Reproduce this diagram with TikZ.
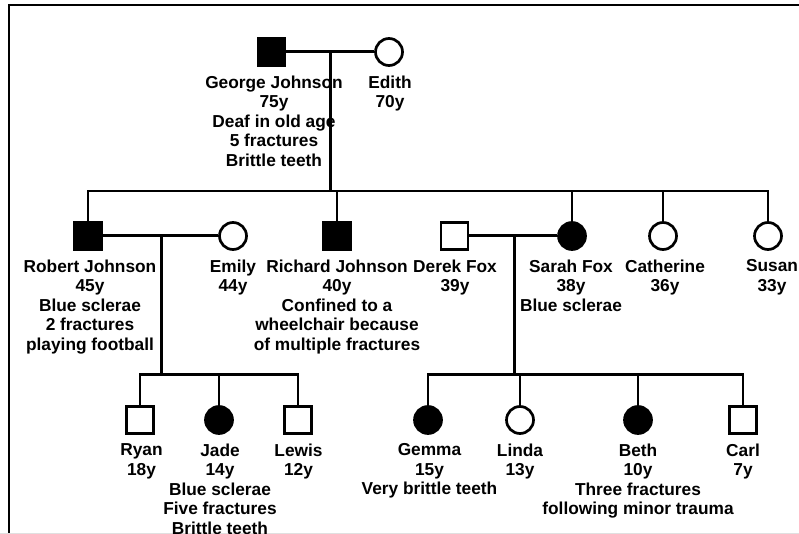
\documentclass[tikz,border=0pt]{standalone}
\usepackage{fontspec}
\setmainfont{Liberation Sans}
\begin{document}
\begin{tikzpicture}[x=1pt,y=-1pt,
  male/.style={draw=black,line width=2.7pt,rectangle,minimum size=27pt,inner sep=0pt,fill=white},
  female/.style={draw=black,line width=2.7pt,circle,minimum size=27pt,inner sep=0pt,fill=white},
  aff/.style={fill=black},
  lbl/.style={anchor=north,align=center,inner sep=0pt,font=\bfseries\fontsize{17.3}{19.6}\selectfont},
  couple/.style={line width=3pt},
  sib/.style={line width=2.4pt}]
\useasboundingbox (0,0) rectangle (799,534);
% frame
\draw[line width=2pt] (9,540) -- (9,5.5) -- (810,5.5);
\draw[line width=1pt,black!12] (0,533.5) -- (799,533.5);
% generation I
\node[male,aff] (george) at (271.5,52) {};
\node[female] (edith) at (389,52) {};
% generation II
\node[male,aff] (robert) at (88,236) {};
\node[female] (emily) at (233,236) {};
\node[male,aff] (richard) at (337,236) {};
\node[male] (derek) at (454.5,236) {};
\node[female,aff] (sarah) at (572,236) {};
\node[female] (catherine) at (663,236) {};
\node[female] (susan) at (768,236) {};
% generation III
\node[male] (ryan) at (140,420) {};
\node[female,aff] (jade) at (219,420) {};
\node[male] (lewis) at (298,420) {};
\node[female,aff] (gemma) at (428,420) {};
\node[female] (linda) at (520,420) {};
\node[female,aff] (beth) at (638,420) {};
\node[male] (carl) at (743,420) {};
% labels
\node[lbl] (tgeorge) at (274,75.4) {George Johnson\\75y\\Deaf in old age\\5 fractures\\Brittle teeth};
\node[lbl] (tedith) at (390,75.4) {Edith\\70y};
\node[lbl] (trobert) at (90,259.4) {Robert Johnson\\45y\\Blue sclerae\\2 fractures\\playing football};
\node[lbl] (temily) at (233,259.4) {Emily\\44y};
\node[lbl] (trichard) at (337,259.4) {Richard Johnson\\40y\\Confined to a\\wheelchair because\\of multiple fractures};
\node[lbl] (tderek) at (455,259.4) {Derek Fox\\39y};
\node[lbl] (tsarah) at (571,259.4) {Sarah Fox\\38y\\Blue sclerae};
\node[lbl] (tcatherine) at (665,259.4) {Catherine\\36y};
\node[lbl] (tsusan) at (772,259.4) {Susan\\33y};
\node[lbl] (tryan) at (141.5,443.4) {Ryan\\18y};
\node[lbl] (tjade) at (220,443.4) {Jade\\14y\\Blue sclerae\\Five fractures\\Brittle teeth};
\node[lbl] (tlewis) at (298.5,443.4) {Lewis\\12y};
\node[lbl] (tgemma) at (429.5,443.4) {Gemma\\15y\\Very brittle teeth};
\node[lbl] (tlinda) at (520,443.4) {Linda\\13y};
\node[lbl] (tbeth) at (638,443.4) {Beth\\10y\\Three fractures\\following minor trauma};
\node[lbl] (tcarl) at (743,443.4) {Carl\\7y};
% connector points
\coordinate (m1) at (330,52);
\coordinate (s1) at (330,191);
\coordinate (m2) at (161,236);
\coordinate (s2) at (161,374.5);
\coordinate (m3) at (514,236);
\coordinate (s3) at (514,374.5);
% connectors
\draw[couple] (george) -- (edith);
\draw[couple] (m1) -- (s1);
\draw[sib] (robert.north) |- (s1) -| (susan.north);
\draw[sib] (richard.north) -- (richard.north |- s1);
\draw[sib] (sarah.north) -- (sarah.north |- s1);
\draw[sib] (catherine.north) -- (catherine.north |- s1);
\draw[couple] (robert) -- (emily);
\draw[couple] (m2) -- (s2);
\draw[sib] (ryan.north) |- (s2) -| (lewis.north);
\draw[sib] (jade.north) -- (jade.north |- s2);
\draw[couple] (derek) -- (sarah);
\draw[couple] (m3) -- (s3);
\draw[sib] (gemma.north) |- (s3) -| (carl.north);
\draw[sib] (linda.north) -- (linda.north |- s3);
\draw[sib] (beth.north) -- (beth.north |- s3);
\end{tikzpicture}
\end{document}
